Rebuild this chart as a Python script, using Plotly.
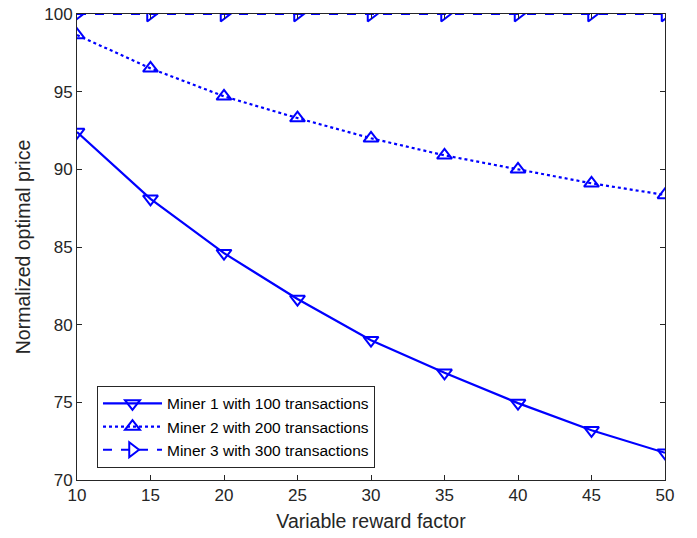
import plotly.graph_objects as go

x_vals = [10, 15, 20, 25, 30, 35, 40, 45, 50]
miner1 = [92.4, 88.1, 84.6, 81.65, 79.0, 76.9, 74.95, 73.2, 71.75]
miner2 = [98.65, 96.5, 94.7, 93.3, 92.0, 90.9, 90.0, 89.1, 88.35]
miner3 = [100, 100, 100, 100, 100, 100, 100, 100, 100]
names = ["Miner 1 with 100 transactions", "Miner 2 with 200 transactions",
         "Miner 3 with 300 transactions"]
x_ticks = [10, 15, 20, 25, 30, 35, 40, 45, 50]
y_ticks = [70, 75, 80, 85, 90, 95, 100]

blue = "rgb(0,0,255)"
font_family = "Liberation Sans, Arial, sans-serif"
fig = go.Figure()
fig.add_trace(go.Scatter(x=x_vals, y=miner1, name=names[0], mode="lines+markers",
                         line=dict(color=blue, width=2.2, dash="solid"),
                         marker=dict(symbol="triangle-down-open", size=13, color=blue,
                                     line=dict(width=2, color=blue))))
fig.add_trace(go.Scatter(x=x_vals, y=miner2, name=names[1], mode="lines+markers",
                         line=dict(color=blue, width=2.2, dash="dot"),
                         marker=dict(symbol="triangle-up-open", size=13, color=blue,
                                     line=dict(width=2, color=blue))))
fig.add_trace(go.Scatter(x=x_vals, y=miner3, name=names[2], mode="lines+markers",
                         line=dict(color=blue, width=2.2, dash="dash"),
                         marker=dict(symbol="triangle-right-open", size=13, color=blue,
                                     line=dict(width=2, color=blue))))

axis_common = dict(showgrid=False, zeroline=False, showline=True, linecolor="#262626",
                   linewidth=1, mirror="ticks", ticks="inside", ticklen=5,
                   tickcolor="#262626", automargin=False,
                   tickfont=dict(size=17, color="#262626", family=font_family))
fig.update_xaxes(range=[10, 50], tickvals=x_ticks,
                 title=dict(text="Variable reward factor", standoff=9,
                            font=dict(size=19.5, color="#262626", family=font_family)),
                 **axis_common)
fig.update_yaxes(range=[70, 100], tickvals=y_ticks,
                 title=dict(text="Normalized optimal price", standoff=8,
                            font=dict(size=19.5, color="#262626", family=font_family)),
                 **axis_common)

fig.update_layout(width=697, height=538, plot_bgcolor="white", paper_bgcolor="white",
                  margin=dict(l=77, r=32, t=14, b=58),
                  legend=dict(x=0.034, y=0.202, xanchor="left", yanchor="top",
                              bgcolor="white", bordercolor="#262626", borderwidth=1,
                              font=dict(size=15.5, color="black", family=font_family),
                              tracegroupgap=0, itemwidth=59),
                  showlegend=True)
fig.write_html("out.html", config={"displayModeBar": False},
               post_script="document.body.style.margin='0';document.body.style.overflow='hidden';")
